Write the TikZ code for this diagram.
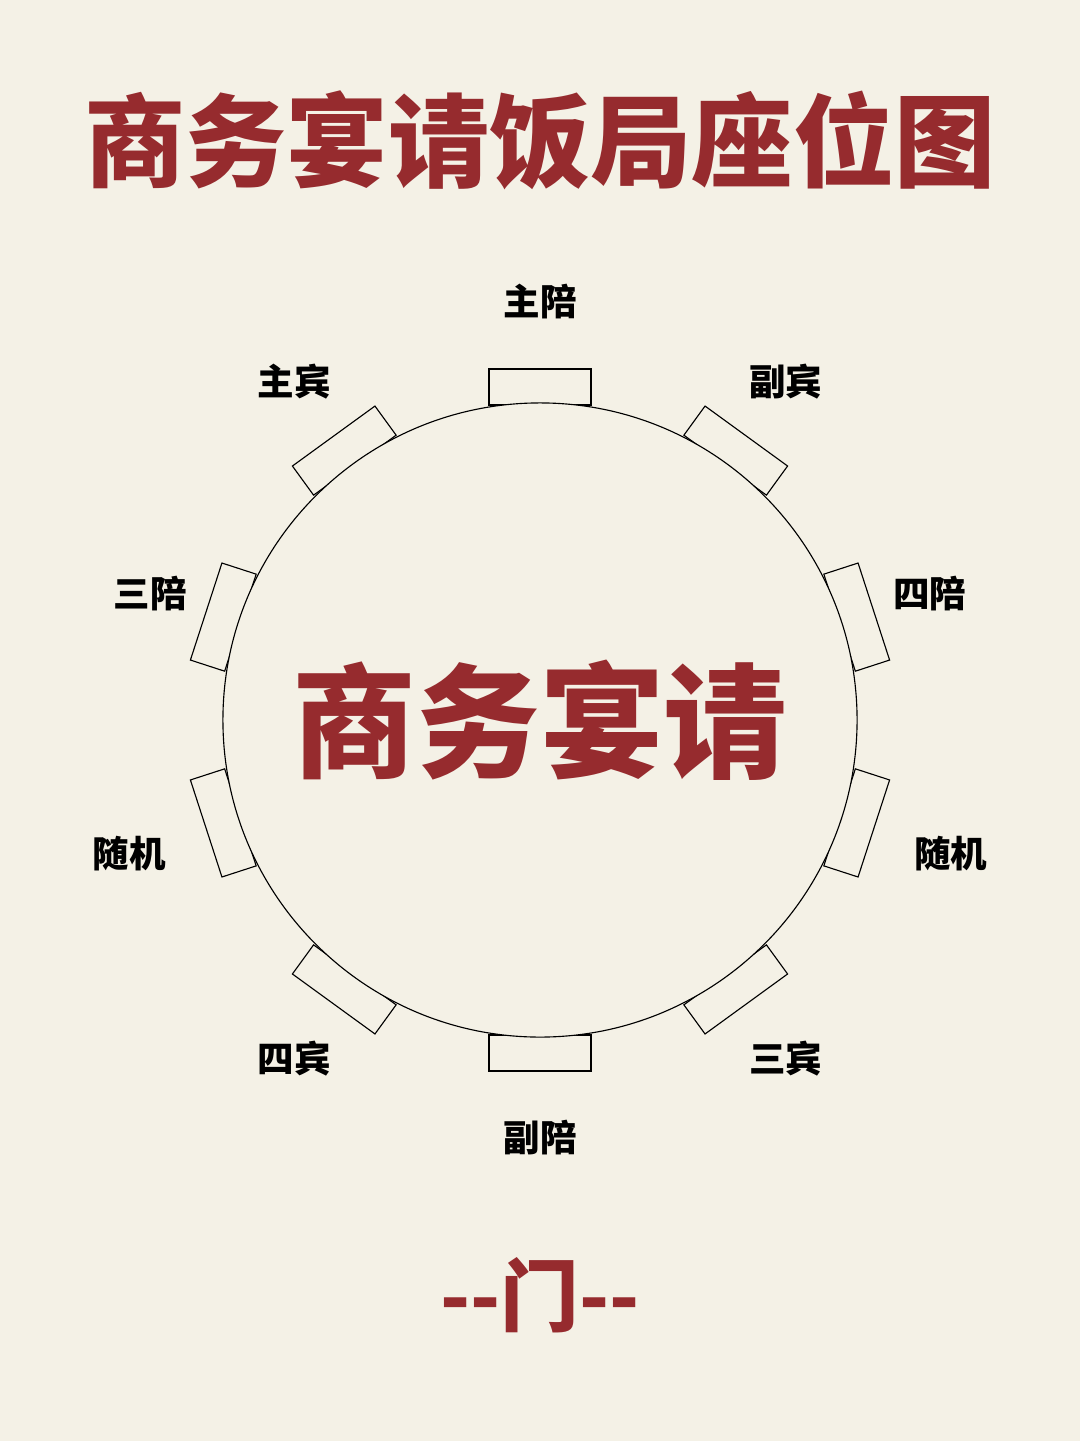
\documentclass[tikz,border=0pt]{standalone}
\usepackage{fontspec}
\newfontfamily\cjk{Noto Sans CJK SC}
\newfontfamily\cjkb{Noto Sans CJK SC Black}
\definecolor{bg}{HTML}{F4F1E6}
\definecolor{wine}{HTML}{962B2E}
\tikzset{
  chair/.style={draw,thick,fill=bg,minimum width=2.55cm,minimum height=0.9cm,inner sep=0pt},
  seatlabel/.style={font=\cjk\bfseries\fontsize{26}{28}\selectfont}
}
\begin{document}
\begin{tikzpicture}[x=0.025cm,y=-0.025cm]
% background
                                    \fill[bg] (0,0) rectangle (1080,1441);
                                    \useasboundingbox (0,0) rectangle (1080,1441);
% title
                                    \node[text=wine,font=\cjkb\fontsize{72}{76}\selectfont] (title) at (540,140) {商务宴请饭局座位图};
% chairs and labels
                                    \foreach \ang/\name/\r in {90/主陪/418,54/副宾/418,18/四陪/410,-18/随机/432,-54/三宾/418,-90/副陪/418,-126/四宾/418,-162/随机/432,162/三陪/410,126/主宾/418}{
                                      \node[chair,rotate=\ang-90] (c\ang) at ({540+333*cos(\ang)},{720-333*sin(\ang)}) {};
                                      \node[seatlabel] (l\ang) at ({540+\r*cos(\ang)},{720-\r*sin(\ang)}) {\name};
                                    }
% table
                                    \node[draw,thick,circle,fill=bg,minimum size=15.85cm] (table) at (540,720) {};
                                    \node[text=wine,font=\cjkb\fontsize{88}{92}\selectfont] (centre) at (table) {商务宴请};
% door
                                    \node[text=wine,font=\cjkb\fontsize{56}{60}\selectfont] (door) at (540,1295) {-{}-门-{}-};
\end{tikzpicture}
\end{document}
